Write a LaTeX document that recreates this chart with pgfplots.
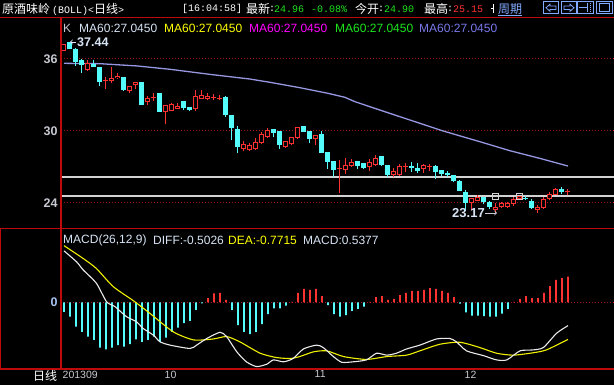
\documentclass[border=0pt]{standalone}
\usepackage{pgfplots}
\pgfplotsset{compat=1.18}
\usepackage{pgfplotstable}
\usepackage{fontspec}
\setmainfont{Liberation Sans}
\newfontfamily\cjk{Noto Sans CJK SC}
\newfontfamily\mono{Liberation Mono}
\definecolor{cUp}{RGB}{255,50,50}
\definecolor{cDn}{RGB}{84,252,252}
\definecolor{cFrame}{RGB}{190,10,10}
\definecolor{cGrid}{RGB}{170,20,20}
\definecolor{cMA}{RGB}{150,150,225}
\definecolor{cTxt}{RGB}{215,228,245}
\definecolor{cTick}{RGB}{200,200,210}
\definecolor{cHL}{RGB}{210,210,210}
\definecolor{cDEA}{RGB}{240,240,0}
\definecolor{cDIFF}{RGB}{235,235,235}
\definecolor{cGreen}{RGB}{30,230,30}
\definecolor{cLav}{RGB}{120,120,235}
\definecolor{cMag}{RGB}{255,0,255}
\definecolor{cYel}{RGB}{255,255,0}
\definecolor{cIcon}{RGB}{130,170,255}
\definecolor{cZero}{RGB}{170,195,245}

% up (red, hollow) candles: index open high low close
\pgfplotstableread{
i o h l c
0 36.70 37.27 36.68 37.25
4 35.06 35.92 35.04 35.64
7 34.18 34.47 33.53 34.28
8 34.19 35.31 34.03 34.42
9 34.39 34.86 34.37 34.61
11 33.31 33.77 33.14 33.75
12 33.81 34.08 33.47 34.06
14 32.44 32.92 32.19 32.75
15 32.76 33.14 32.53 32.86
17 31.56 32.19 30.56 32.17
18 31.69 32.36 31.67 32.25
19 31.86 32.31 31.84 32.06
22 31.86 33.39 31.69 32.92
23 32.69 33.39 32.67 32.99
24 32.64 33.14 32.62 32.92
25 32.76 33.08 32.58 32.86
26 32.66 33.00 32.58 32.76
30 28.50 29.19 28.36 28.89
31 28.39 29.03 28.37 28.80
32 28.47 29.39 28.45 29.06
33 28.97 29.94 28.95 29.75
34 29.47 30.25 29.45 30.06
37 28.64 29.19 28.62 29.17
38 28.89 29.49 28.87 29.47
39 29.44 30.33 29.33 30.31
42 29.36 29.69 28.83 29.67
46 26.80 27.58 24.86 26.90
47 26.78 27.75 26.39 27.19
48 27.06 27.69 27.04 27.42
51 26.97 27.69 26.64 27.42
52 27.14 28.03 27.12 27.75
55 26.31 26.92 26.20 26.67
56 26.31 27.25 26.29 27.11
57 26.98 27.31 26.58 27.08
60 26.86 27.25 26.53 27.14
61 26.96 27.25 26.70 27.06
68 24.03 24.41 23.42 24.39
69 24.19 24.64 24.17 24.50
72 23.44 24.00 23.17 23.67
73 23.67 24.11 23.56 23.97
74 23.64 24.05 23.62 24.03
75 23.94 24.47 23.78 24.31
76 24.31 24.60 24.29 24.58
79 23.39 23.83 23.19 23.69
80 23.56 24.53 23.54 24.33
81 24.31 24.89 24.29 24.75
82 24.69 25.28 24.67 25.17
84 24.90 25.15 24.67 25.00
}\uptable

% down (cyan, filled) candles
\pgfplotstableread{
i o h l c
1 37.39 37.44 36.81 36.81
2 36.85 36.88 35.44 35.78
3 35.94 35.97 34.86 35.47
5 35.61 35.92 35.34 35.36
6 35.33 35.36 33.78 34.11
10 34.50 34.52 33.33 33.42
13 34.08 34.10 32.19 32.19
16 33.17 33.19 31.61 31.61
20 32.50 32.52 31.78 31.94
21 32.00 32.02 31.69 31.77
27 32.86 32.88 31.19 31.33
28 31.33 31.35 29.25 30.28
29 30.17 30.42 28.19 28.69
35 30.14 30.16 29.53 29.86
36 29.97 29.99 28.53 28.86
40 30.42 30.44 29.90 29.92
41 29.97 29.99 28.97 29.36
43 29.75 30.00 28.19 28.19
44 28.22 28.24 26.86 27.42
45 27.50 27.52 26.14 26.78
49 27.50 27.52 26.86 27.08
50 27.33 27.35 26.85 26.94
53 27.92 27.94 27.12 27.14
54 27.14 27.16 26.14 26.33
58 27.08 27.44 26.56 26.94
59 26.94 27.36 26.50 26.69
62 27.11 27.13 25.97 26.61
63 26.75 26.77 26.28 26.39
64 26.50 26.64 26.19 26.36
65 26.33 26.35 25.75 25.86
66 25.86 25.88 25.03 25.03
67 24.92 25.06 23.36 24.03
70 24.50 24.52 23.89 24.08
71 24.11 24.13 23.47 23.69
77 24.44 24.58 24.25 24.33
78 24.14 24.31 23.50 23.56
83 25.17 25.33 24.75 24.92
}\dntable

\pgfplotsset{
  panel/.style={scale only axis, width=553pt, xmin=-0.5, xmax=91.667,
    axis line style={draw=none}, major tick length=0pt, clip=true,
    /pgf/number format/assume math mode=true,
    yticklabel style={font=\fontsize{12.5}{14}\selectfont\bfseries, text=cTick}},
  ebar/.style n args={2}{draw=none, mark=none, forget plot,
    error bars/.cd, y dir=plus, y explicit, error mark=none,
    error bar style={line width=#1, draw=#2}},
}

\begin{document}
\begin{tikzpicture}[x=1pt,y=1pt]
\fill[black] (0,0) rectangle (614,385);
\useasboundingbox (0,0) rectangle (614,385);

% ---------- main price panel ----------
\begin{axis}[panel, at={(61pt,157pt)}, anchor=south west, height=210pt,
  ymin=21.917, ymax=39.417, ytick={24,30,36}, xtick=\empty]
\addplot[cGrid, line width=1pt, dash pattern=on 1pt off 2pt] coordinates {(-0.5,36) (91.667,36)};
\addplot[cGrid, line width=1pt, dash pattern=on 1pt off 2pt] coordinates {(-0.5,30) (91.667,30)};
\addplot[cGrid, line width=1pt, dash pattern=on 1pt off 2pt] coordinates {(-0.5,24) (91.667,24)};
\addplot[cHL, line width=1.3pt] coordinates {(-0.5,26.17) (91.667,26.17)};
\addplot[cHL, line width=1.3pt] coordinates {(-0.5,24.58) (91.667,24.58)};
% MA60
\addplot[cMA, line width=1.3pt] coordinates {
(0,35.64) (6,35.61) (12.2,35.42) (17.7,35.14) (24.3,34.72) (31,34.33) (34.3,34.06)
(39.3,33.61) (44,33.14) (46.8,32.81) (48.5,32.44) (54.3,31.47) (63.2,30.0)
(69.3,29.11) (74.3,28.36) (79.3,27.72) (84,27.08)};
% down candles
\addplot[ebar={1pt}{cDn}] table[x=i, y=l, y error plus expr=\thisrow{h}-\thisrow{l}] {\dntable};
\addplot[ebar={5pt}{cDn}] table[x=i, y=c, y error plus expr=\thisrow{o}-\thisrow{c}] {\dntable};
% up candles
\addplot[ebar={1pt}{cUp}] table[x=i, y=l, y error plus expr=\thisrow{h}-\thisrow{l}] {\uptable};
\addplot[ebar={5pt}{cUp}] table[x=i, y=o, y error plus expr=\thisrow{c}-\thisrow{o}] {\uptable};
\addplot[ebar={3pt}{black}] table[x=i, y expr=\thisrow{o}+0.0833, y error plus expr={max(0,\thisrow{c}-\thisrow{o}-0.1667)}] {\uptable};
% markers
\addplot[only marks, mark=square, mark size=3pt, cHL, mark options={line width=1pt, fill=black}] coordinates {(72,24.58) (76,24.58)};
\end{axis}

% ---------- MACD panel ----------
\begin{axis}[panel, at={(61pt,17pt)}, anchor=south west, height=139pt,
  ymin=-1.380, ymax=1.540, ytick={0},
  yticklabel style={text=cZero},
  xtick={0,17,42,67}, xticklabels={201309,10,11,12},
  xticklabel style={anchor=north west, inner sep=0pt, yshift=-2.5pt, xshift=-1.5pt,
     font=\fontsize{10.5}{12}\selectfont, text=cTick}]
\addplot[cGrid, line width=1pt, dash pattern=on 1pt off 2pt] coordinates {(-0.5,0) (91.667,0)};
\addplot[ybar, bar width=1.6pt, bar shift=0pt, fill=cUp, draw=none] coordinates {
(24,0.09) (25,0.19) (26,0.20) (27,0.05) (38,0.01) (39,0.20) (40,0.28) (41,0.26) (42,0.28) (43,0.13)
(51,0.01) (52,0.11) (53,0.13) (54,0.05) (55,0.07) (56,0.15) (57,0.20) (58,0.24) (59,0.24) (60,0.26)
(61,0.30) (62,0.28) (63,0.24) (64,0.20) (65,0.11) (75,0.01) (76,0.07) (77,0.13) (78,0.09) (79,0.09)
(80,0.20) (81,0.34) (82,0.47) (83,0.51) (84,0.5377)};
\addplot[ybar, bar width=1.6pt, bar shift=0pt, fill=cDn, draw=none] coordinates {
(0,-0.20) (1,-0.30) (2,-0.51) (3,-0.62) (4,-0.72) (5,-0.79) (6,-0.95) (7,-0.99) (8,-0.95) (9,-0.90)
(10,-0.93) (11,-0.88) (12,-0.78) (13,-0.83) (14,-0.79) (15,-0.72) (16,-0.83) (17,-0.74) (18,-0.62)
(19,-0.53) (20,-0.44) (21,-0.39) (22,-0.16) (23,-0.02) (28,-0.16) (29,-0.48) (30,-0.62) (31,-0.67)
(32,-0.62) (33,-0.46) (34,-0.25) (35,-0.13) (36,-0.13) (37,-0.07) (44,-0.06) (45,-0.25) (46,-0.30)
(47,-0.27) (48,-0.18) (49,-0.14) (50,-0.09) (66,-0.03) (67,-0.21) (68,-0.28) (69,-0.28) (70,-0.29)
(71,-0.30) (72,-0.30) (73,-0.24) (74,-0.14)};
% DEA
\addplot[cDEA, line width=1.1pt, smooth, tension=0.4] coordinates {
(0,1.19) (3.2,0.92) (5.4,0.71) (8.2,0.33) (11.6,0.03) (14.3,-0.23) (18.2,-0.62) (21.6,-0.79)
(24.9,-0.77) (27.1,-0.72) (29.3,-0.83) (32.7,-1.07) (35.4,-1.16) (37.7,-1.18) (39.3,-1.14)
(41.6,-1.04) (43.8,-1.02) (46.6,-1.14) (50.4,-1.20) (53.8,-1.14) (57.1,-1.11) (59.3,-1.02)
(62.7,-0.88) (66,-0.84) (69.3,-0.95) (72.1,-1.07) (74.9,-1.11) (78.2,-1.06) (80.4,-1.00) (84,-0.78)};
% DIFF
\addplot[cDIFF, line width=1.1pt, smooth, tension=0.4] coordinates {
(0,1.08) (2.1,0.85) (3.2,0.68) (5.4,0.40) (7.1,0.01) (8.5,-0.09) (10.4,-0.30) (12.1,-0.41)
(13.2,-0.55) (14.9,-0.69) (16,-0.83) (17.7,-0.90) (21,-0.97) (22.1,-0.90) (23.8,-0.76) (26,-0.63)
(27.1,-0.72) (28.8,-1.04) (30.4,-1.25) (32.1,-1.35) (33.8,-1.30) (34.9,-1.21) (36.6,-1.25)
(38.2,-1.18) (39.9,-0.98) (42.1,-0.90) (43.2,-0.95) (44.9,-1.14) (46.3,-1.26) (48.2,-1.25)
(50.4,-1.21) (52.1,-1.07) (53.8,-1.11) (55.4,-1.07) (57.1,-0.98) (59.3,-0.90) (62.1,-0.77)
(64.3,-0.76) (65.4,-0.83) (67.1,-1.02) (69.9,-1.12) (72.1,-1.21) (73.8,-1.21) (76,-1.02)
(78.2,-1.00) (79.9,-0.95) (82.1,-0.65) (84,-0.49)};
\end{axis}

% ---------- frame lines ----------
\draw[cFrame, line width=1.3pt] (0,367.5) -- (614,367.5);
\draw[cFrame, line width=1.3pt] (61,367.5) -- (61,16);
\draw[cFrame, line width=1.3pt] (0,156.5) -- (614,156.5);
\draw[cFrame, line width=1.3pt] (0,16) -- (614,16);
\draw[cFrame, line width=1.3pt] (0.7,16) -- (0.7,156.5);

% ---------- title bar ----------
\tikzset{t/.style={anchor=west, inner sep=0pt}}
\node[t, text=white, font=\cjk\fontsize{12}{14}\selectfont] at (2,376) {原酒味岭};
\node[t, text=white, font=\mono\fontsize{10}{12}\selectfont] at (52,376) {(BOLL)<{\cjk\fontsize{12}{14}\selectfont 日线}>};
\node[t, text=white, font=\mono\fontsize{10}{12}\selectfont] at (182,376) {[16:04:58]};
\node[t, text=white, font=\cjk\fontsize{12}{14}\selectfont] at (246,376) {最新};
\node[t, text=white, font=\mono\fontsize{10}{12}\selectfont] at (269,376) {:};
\node[t, text=cGreen, font=\mono\fontsize{10}{12}\selectfont] at (274,376) {24.96};
\node[t, text=cGreen, font=\mono\fontsize{10}{12}\selectfont] at (311,376) {-0.08\%};
\node[t, text=white, font=\cjk\fontsize{12}{14}\selectfont] at (355,376) {今开};
\node[t, text=white, font=\mono\fontsize{10}{12}\selectfont] at (378,376) {:};
\node[t, text=cGreen, font=\mono\fontsize{10}{12}\selectfont] at (384,376) {24.90};
\node[t, text=white, font=\cjk\fontsize{12}{14}\selectfont] at (424,376) {最高};
\node[t, text=white, font=\mono\fontsize{10}{12}\selectfont] at (447,376) {:};
\node[t, text=cUp, font=\mono\fontsize{10}{12}\selectfont] at (453,376) {25.15};
\draw[white, line width=0.8pt] (493.5,372) -- (493.5,381) (491,376.5) -- (493.5,376.5);
\node[t, text=cIcon, font=\cjk\fontsize{12}{14}\selectfont] at (498,376) {周期};
\draw[cIcon, line width=0.8pt] (498,369.8) -- (522,369.8);
% icons
\draw[cIcon, line width=1pt] (543.5,371) rectangle (558.5,383.5);
\draw[cIcon, line width=0.8pt] (546,377.25) -- (550,380.8) -- (550,379) -- (556,379) -- (556,375.5) -- (550,375.5) -- (550,373.7) -- cycle;
\draw[cIcon, line width=1pt] (561.5,371) rectangle (576.5,383.5);
\draw[cIcon, line width=0.8pt] (574,377.25) -- (570,380.8) -- (570,379) -- (564,379) -- (564,375.5) -- (570,375.5) -- (570,373.7) -- cycle;
\draw[cIcon, line width=1pt] (577.5,371) rectangle (593.5,383.5);
\draw[cIcon, line width=0.8pt] (579,377.25) -- (587,377.25) (587,373) -- (587,381.5);
\draw[cIcon, line width=0.8pt, dash pattern=on 1pt off 1pt] (590,373) -- (590,381.5);
\draw[cIcon, line width=1pt] (596.5,371) rectangle (612.5,383.5);
\draw[cIcon, line width=1pt] (599.5,373.5) rectangle (609.5,381);

% ---------- main chart header ----------
\tikzset{h/.style={anchor=west, inner sep=0pt, font=\fontsize{12}{14}\selectfont}}
\node[h, text=cTick] at (63,356.5) {K};
\node[h, text=cTxt] at (79,356.5) {MA60:27.0450};
\node[h, text=cYel] at (164,356.5) {MA60:27.0450};
\node[h, text=cMag] at (249,356.5) {MA60:27.0450};
\node[h, text=cGreen] at (335,356.5) {MA60:27.0450};
\node[h, text=cLav] at (419,356.5) {MA60:27.0450};

% extreme labels
\node[anchor=west, inner sep=0pt, text=cTxt, font=\fontsize{12.5}{14}\selectfont\bfseries] at (77,343) {37.44};
\draw[cTxt, line width=0.9pt, ->] (76,343) -- (70,343);
\node[anchor=west, inner sep=0pt, text=cTxt, font=\fontsize{13}{15}\selectfont\bfseries] at (452,172) {23.17};
\draw[cTick, line width=0.9pt, ->] (485,172) -- (497,172);

% ---------- MACD header ----------
\node[h, text=cTxt] at (63,145) {MACD(26,12,9)};
\node[h, text=cTxt] at (153,145) {DIFF:-0.5026};
\node[h, text=cYel] at (228,145) {DEA:-0.7715};
\node[h, text=cTxt] at (303,145) {MACD:0.5377};

% bottom-left label
\node[anchor=west, inner sep=0pt, text=white, font=\cjk\fontsize{12}{14}\selectfont] at (33,9.5) {日线};
\end{tikzpicture}
\end{document}
